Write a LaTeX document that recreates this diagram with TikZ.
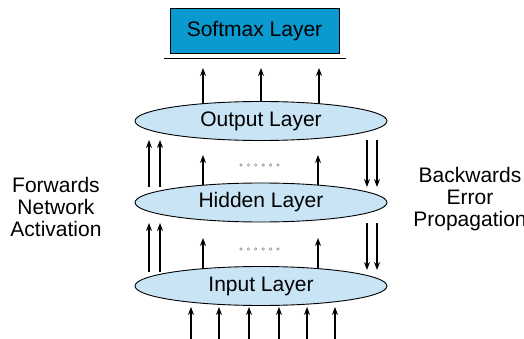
\documentclass[tikz,border=0pt]{standalone}
\usepackage{fontspec}
\setmainfont{Liberation Sans}
\usetikzlibrary{shapes.geometric,arrows.meta}
\definecolor{softblue}{HTML}{0A9ACF}
\definecolor{layerblue}{HTML}{C8E4F5}
\definecolor{dotgrey}{HTML}{8A8A8A}
\tikzset{
  layer/.style={ellipse, draw=black, line width=0.9pt, fill=layerblue,
    minimum width=252pt, minimum height=39pt, inner sep=0pt,
    font=\fontsize{21}{22}\selectfont},
  softbox/.style={draw=black, line width=1pt, fill=softblue,
    minimum width=169pt, minimum height=45pt, inner sep=0pt,
    font=\fontsize{21}{22}\selectfont},
  flow/.style={line width=1.1pt, -{Stealth[length=8pt,width=6pt]}},
  sidetext/.style={align=center, inner sep=0pt, font=\fontsize{21}{22}\selectfont},
  gap/.style={circle, draw=dotgrey, line width=0.5pt, minimum size=2.6pt, inner sep=0pt}
}
\begin{document}
\begin{tikzpicture}[x=1pt, y=-1pt]
  \clip (0,0) rectangle (524,339);
  \fill[white] (0,0) rectangle (524,339);

  % output stage
  \node[softbox] (soft) at (254.5,31.5) {Softmax Layer};
  \coordinate (barL) at (164,58);
  \coordinate (barR) at (346,58);
  \draw[line width=0.9pt] (barL) -- (barR);

  % the three layers
  \node[layer] (out) at (261,121) {Output Layer};
  \node[layer] (hid) at (261,202.5) {Hidden Layer};
  \node[layer] (inp) at (261,286) {Input Layer};

  % arrows from the output layer to the softmax layer
  \foreach \x/\d [count=\i] in {203/17.3, 261/19.5, 319/17.3} {
    \coordinate (ob\i) at (\x,121-\d);
    \coordinate (ot\i) at (\x,68);
    \draw[flow] (ob\i) -- (ot\i);
  }

  % arrows between layers
  \foreach \x/\d [count=\i] in {203/17.3, 318/17.4} {
    \coordinate (hb\i) at (\x,202.5-\d);
    \coordinate (ht\i) at (\x,155);
    \draw[flow] (hb\i) -- (ht\i);
    \coordinate (ib\i) at (\x,286-\d);
    \coordinate (it\i) at (\x,238);
    \draw[flow] (ib\i) -- (it\i);
  }

  % rows of dots between the inner arrows
  \foreach \k in {0,...,5} {
    \node[gap] (ga\k) at (241+7.4*\k,165) {};
    \node[gap] (gb\k) at (241+7.4*\k,249) {};
  }

  % forward activation arrows on the left
  \foreach \x [count=\i] in {149,160} {
    \coordinate (fu\i) at (\x,187);
    \coordinate (fv\i) at (\x,140);
    \draw[flow] (fu\i) -- (fv\i);
    \coordinate (fw\i) at (\x,272);
    \coordinate (fx\i) at (\x,223);
    \draw[flow] (fw\i) -- (fx\i);
  }

  % backward error arrows on the right
  \foreach \x [count=\i] in {367,377} {
    \coordinate (bu\i) at (\x,140);
    \coordinate (bv\i) at (\x,187);
    \draw[flow] (bu\i) -- (bv\i);
    \coordinate (bw\i) at (\x,223);
    \coordinate (bx\i) at (\x,270);
    \draw[flow] (bw\i) -- (bx\i);
  }

  % input arrows
  \foreach \x [count=\i] in {191,219,249,279,307,335} {
    \coordinate (ia\i) at (\x,339);
    \coordinate (ic\i) at (\x,307);
    \draw[flow] (ia\i) -- (ic\i);
  }

  % side labels (the right one runs past the page edge)
  \node[sidetext] (fwd) at (56,207) {Forwards\\Network\\Activation};
  \node[sidetext] (bwd) at (470,199) {Backwards\\Error\\Propagation};
\end{tikzpicture}
\end{document}
